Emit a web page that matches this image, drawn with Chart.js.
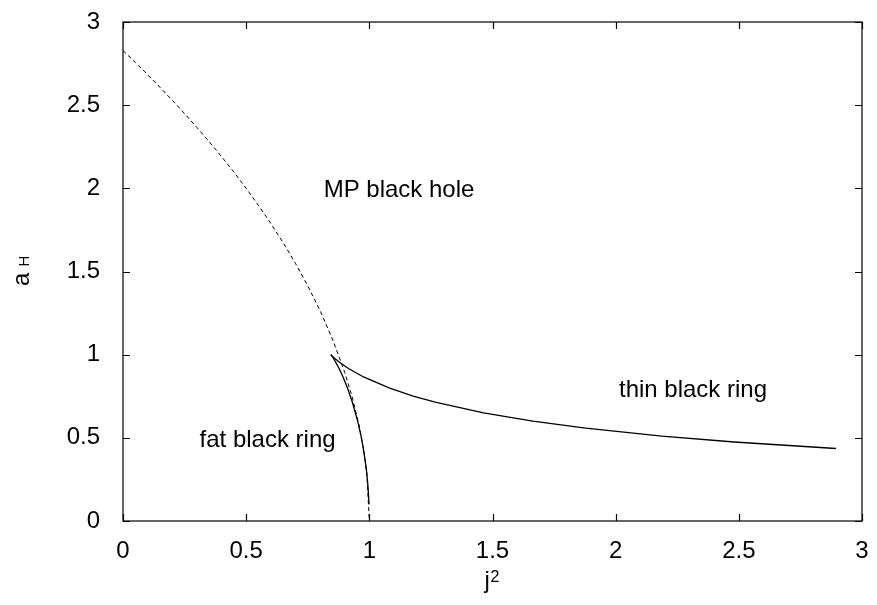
<!DOCTYPE html>
<html>
<head>
<meta charset="utf-8">
<script src="https://cdn.jsdelivr.net/npm/chart.js@4/dist/chart.umd.min.js"></script>
<style>
  body { margin: 0; background: #fff; }
  canvas { display: block; }
</style>
</head>
<body>
<canvas id="chartPhase" width="877" height="605"></canvas>
<script>
// MP black hole (dashed)
let mpJ2 = [0, 0.05, 0.1, 0.15, 0.2, 0.25, 0.3, 0.35, 0.4, 0.45, 0.5, 0.55, 0.6, 0.65, 0.7, 0.75, 0.8, 0.85, 0.9, 0.93, 0.96, 0.98, 0.99, 1.0];
let mpAH = [2.828, 2.757, 2.683, 2.607, 2.530, 2.449, 2.366, 2.280, 2.191, 2.098, 2.000, 1.897, 1.789, 1.673, 1.549, 1.414, 1.265, 1.095, 0.894, 0.748, 0.566, 0.400, 0.283, 0];

// fat black ring branch (from cusp down to j^2 = 1)
let fatJ2 = [0.8438, 0.8463, 0.8533, 0.8639, 0.8773, 0.8932, 0.9113, 0.9311, 0.9526, 0.9663, 0.9756, 0.9852, 0.9901, 0.9950, 0.9988];
let fatAH = [1.000, 0.995, 0.980, 0.954, 0.917, 0.866, 0.800, 0.714, 0.600, 0.510, 0.436, 0.341, 0.280, 0.199, 0.100];

// thin black ring branch (from cusp out to the right)
let thinJ2 = [0.8438, 0.8468, 0.8575, 0.8787, 0.9154, 0.9766, 1.080, 1.1777, 1.2674, 1.4635, 1.6638, 1.8784, 2.1876, 2.4813, 2.8941];
let thinAH = [1.000, 0.995, 0.980, 0.954, 0.917, 0.866, 0.800, 0.751, 0.714, 0.650, 0.600, 0.558, 0.510, 0.475, 0.436];

let tickValues = [0, 0.5, 1, 1.5, 2, 2.5, 3];

let notes = [
    { text: 'MP black hole', x: 1.1205, y: 1.948 },
    { text: 'fat black ring', x: 0.587, y: 0.445 },
    { text: 'thin black ring', x: 2.314, y: 0.745 }
];

function toPoints(xs, ys) {
    let pts = [];
    for (let i = 0; i < xs.length; i++) {
        pts.push({ x: xs[i], y: ys[i] });
    }
    return pts;
}

const FONT = '"Liberation Sans", Arial, Helvetica, sans-serif';

// gnuplot style frame with inward ticks on all four sides
let framePlugin = {
    id: 'frame',
    afterDraw(chart) {
        let ctx = chart.ctx;
        let a = chart.chartArea;
        let sx = chart.scales.x;
        let sy = chart.scales.y;
        let tl = 7;
        ctx.save();
        ctx.strokeStyle = '#000';
        ctx.lineWidth = 1.2;
        ctx.strokeRect(a.left, a.top, a.right - a.left, a.bottom - a.top);
        ctx.beginPath();
        tickValues.forEach(v => {
            let px = Math.round(sx.getPixelForValue(v)) + 0.5;
            ctx.moveTo(px, a.bottom); ctx.lineTo(px, a.bottom - tl);
            ctx.moveTo(px, a.top); ctx.lineTo(px, a.top + tl);
            let py = Math.round(sy.getPixelForValue(v)) + 0.5;
            ctx.moveTo(a.left, py); ctx.lineTo(a.left + tl, py);
            ctx.moveTo(a.right, py); ctx.lineTo(a.right - tl, py);
        });
        ctx.stroke();

        // curve labels
        ctx.fillStyle = '#000';
        ctx.font = '24px ' + FONT;
        ctx.textAlign = 'center';
        ctx.textBaseline = 'alphabetic';
        notes.forEach(n => {
            ctx.fillText(n.text, sx.getPixelForValue(n.x), sy.getPixelForValue(n.y));
        });

        // x title: j^2
        let cx = (a.left + a.right) / 2;
        ctx.textAlign = 'left';
        ctx.font = '24px ' + FONT;
        ctx.fillText('j', cx - 8, 588);
        ctx.font = '16px ' + FONT;
        ctx.fillText('2', cx - 2, 582);

        // y title: a_H (rotated)
        ctx.translate(29, 286);
        ctx.rotate(-Math.PI / 2);
        ctx.font = '24px ' + FONT;
        ctx.fillText('a', 0, 0);
        ctx.font = '15px ' + FONT;
        ctx.fillText('H', 19.5, 0);
        ctx.restore();
    }
};

let contextPhase = document.querySelector('#chartPhase').getContext('2d');

let config = {
    type: 'scatter',
    data: {
        datasets: [{
            label: 'MP black hole',
            data: toPoints(mpJ2, mpAH),
            showLine: true,
            borderColor: '#000',
            borderWidth: 1,
            borderDash: [4, 3],
            pointRadius: 0
        }, {
            label: 'fat black ring',
            data: toPoints(fatJ2, fatAH),
            showLine: true,
            borderColor: '#000',
            borderWidth: 1.3,
            pointRadius: 0
        }, {
            label: 'thin black ring',
            data: toPoints(thinJ2, thinAH),
            showLine: true,
            borderColor: '#000',
            borderWidth: 1.3,
            pointRadius: 0
        }]
    },
    options: {
        responsive: false,
        animation: false,
        layout: {
            padding: { top: 22, right: 15, left: 0, bottom: 0 }
        },
        plugins: {
            legend: { display: false },
            tooltip: { enabled: false }
        },
        scales: {
            x: {
                type: 'linear',
                min: 0,
                max: 3,
                grid: { display: false },
                border: { display: false },
                ticks: {
                    stepSize: 0.5,
                    color: '#000',
                    padding: 8,
                    maxRotation: 0,
                    font: { family: FONT, size: 24 },
                    callback: (v) => String(v)
                },
                afterFit: (s) => { s.height = 84; s.paddingLeft = 0; s.paddingRight = 0; }
            },
            y: {
                type: 'linear',
                min: 0,
                max: 3,
                grid: { display: false },
                border: { display: false },
                ticks: {
                    stepSize: 0.5,
                    color: '#000',
                    padding: 15,
                    font: { family: FONT, size: 24 },
                    callback: (v) => String(v)
                },
                afterFit: (s) => { s.width = 123; s.paddingTop = 0; s.paddingBottom = 0; }
            }
        }
    },
    plugins: [framePlugin]
};

let chartPhase = new Chart(contextPhase, config);
</script>
</body>
</html>
